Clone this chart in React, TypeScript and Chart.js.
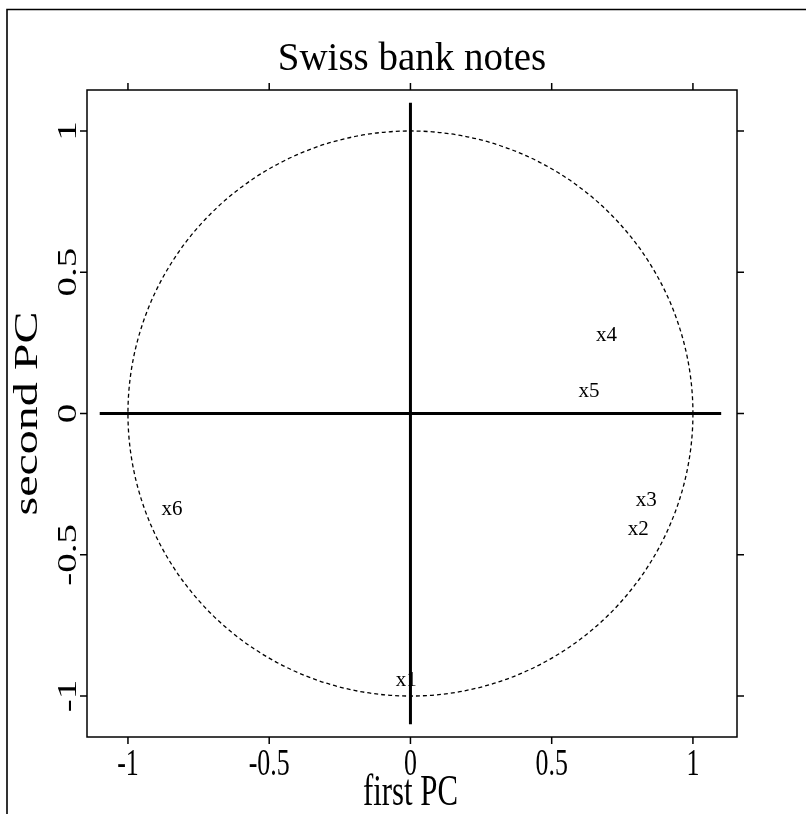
import React, { useEffect, useRef } from "react";
import { Chart, registerables } from "chart.js";

Chart.register(...registerables);

const TITLE = "Swiss bank notes";
const X_TITLE = "first PC";
const Y_TITLE = "second PC";

const VAR_NAMES = ["x1", "x2", "x3", "x4", "x5", "x6"];
const PC1 = [-0.015, 0.806, 0.835, 0.694, 0.632, -0.844];
const PC2 = [-0.945, -0.409, -0.309, 0.275, 0.078, -0.338];

const X_TICKS = [-1, -0.5, 0, 0.5, 1];
const Y_TICKS = [-1, -0.5, 0, 0.5, 1];
const X_TICK_LABELS = ["-1", "-0.5", "0", "0.5", "1"];
const Y_TICK_LABELS = ["-1", "-0.5", "0", "0.5", "1"];

const X_RANGE = [-1.145, 1.156];
const Y_RANGE = [-1.145, 1.145];

const AXIS_EXTENT = 1.1;
const CIRCLE_RADIUS = 1;

const FONT = '"Liberation Serif", "DejaVu Serif", serif';

function drawText(
  ctx: CanvasRenderingContext2D,
  text: string,
  x: number,
  y: number,
  size: number,
  scaleX: number,
  rotated: boolean
) {
  ctx.save();
  ctx.translate(x, y);
  ctx.scale(scaleX, 1);
  if (rotated) ctx.rotate(-Math.PI / 2);
  ctx.font = `${size}px ${FONT}`;
  ctx.textAlign = "center";
  ctx.textBaseline = "middle";
  ctx.fillText(text, 0, 0);
  ctx.restore();
}

const decorPlugin = {
  id: "decor",
  beforeDatasetsDraw(chart: any) {
    const ctx = chart.ctx;
    const xs = chart.scales.x;
    const ys = chart.scales.y;
    const cx = xs.getPixelForValue(0);
    const cy = ys.getPixelForValue(0);
    const rx = xs.getPixelForValue(CIRCLE_RADIUS) - cx;
    const ry = cy - ys.getPixelForValue(CIRCLE_RADIUS);
    ctx.save();
    ctx.strokeStyle = "#000";
    ctx.lineWidth = 1.3;
    ctx.setLineDash([4, 3]);
    ctx.beginPath();
    ctx.ellipse(cx, cy, rx, ry, 0, 0, Math.PI * 2);
    ctx.stroke();
    ctx.restore();
  },
  afterDraw(chart: any) {
    const ctx = chart.ctx;
    const area = chart.chartArea;
    const xs = chart.scales.x;
    const ys = chart.scales.y;
    ctx.save();
    ctx.strokeStyle = "#000";
    ctx.fillStyle = "#000";
    // outer frame
    ctx.lineWidth = 1.6;
    ctx.beginPath();
    ctx.moveTo(7, 830);
    ctx.lineTo(7, 9.5);
    ctx.lineTo(830, 9.5);
    ctx.stroke();
    // plot box
    ctx.lineWidth = 1.5;
    ctx.strokeRect(area.left, area.top, area.right - area.left, area.bottom - area.top);
    // ticks
    const tl = 7;
    ctx.beginPath();
    X_TICKS.forEach((v) => {
      const px = xs.getPixelForValue(v);
      ctx.moveTo(px, area.top);
      ctx.lineTo(px, area.top - tl);
      ctx.moveTo(px, area.bottom);
      ctx.lineTo(px, area.bottom + tl);
    });
    Y_TICKS.forEach((v) => {
      const py = ys.getPixelForValue(v);
      ctx.moveTo(area.left, py);
      ctx.lineTo(area.left - tl, py);
      ctx.moveTo(area.right, py);
      ctx.lineTo(area.right + tl, py);
    });
    ctx.stroke();
    // tick labels
    X_TICKS.forEach((v, i) => {
      drawText(ctx, X_TICK_LABELS[i], xs.getPixelForValue(v), 765, 37, 0.7, false);
    });
    Y_TICKS.forEach((v, i) => {
      drawText(ctx, Y_TICK_LABELS[i], 69, ys.getPixelForValue(v), 39, 0.7, true);
    });
    // axis titles
    drawText(ctx, X_TITLE, xs.getPixelForValue(0), 793, 44, 0.7, false);
    drawText(ctx, Y_TITLE, 28, ys.getPixelForValue(0), 48, 0.7, true);
    // title
    drawText(ctx, TITLE, (area.left + area.right) / 2, 59, 41, 0.95, false);
    // variable labels
    const meta = chart.getDatasetMeta(2);
    meta.data.forEach((pt: any, i: number) => {
      drawText(ctx, VAR_NAMES[i], pt.x, pt.y, 21, 1, false);
    });
    ctx.restore();
  },
};

export default function App() {
  const ref = useRef<HTMLCanvasElement | null>(null);
  useEffect(() => {
    if (!ref.current) return;
    const chart = new Chart(ref.current, {
      type: "scatter",
      data: {
        datasets: [
          {
            type: "line",
            data: [
              { x: -AXIS_EXTENT, y: 0 },
              { x: AXIS_EXTENT, y: 0 },
            ],
            borderColor: "#000",
            borderWidth: 3,
            pointRadius: 0,
            fill: false,
          },
          {
            type: "line",
            data: [
              { x: 0, y: -AXIS_EXTENT },
              { x: 0, y: AXIS_EXTENT },
            ],
            borderColor: "#000",
            borderWidth: 3,
            pointRadius: 0,
            fill: false,
          },
          {
            data: VAR_NAMES.map((_, i) => ({ x: PC1[i], y: PC2[i] })),
            pointRadius: 0,
            backgroundColor: "transparent",
            borderColor: "transparent",
          },
        ],
      } as any,
      options: {
        responsive: false,
        animation: false,
        devicePixelRatio: 1,
        layout: { padding: { left: 87, top: 90, right: 69, bottom: 77 } },
        plugins: {
          legend: { display: false },
          tooltip: { enabled: false },
          title: { display: false },
        },
        scales: {
          x: { type: "linear", min: X_RANGE[0], max: X_RANGE[1], display: false },
          y: { type: "linear", min: Y_RANGE[0], max: Y_RANGE[1], display: false },
        },
      },
      plugins: [decorPlugin],
    });
    return () => chart.destroy();
  }, []);
  return (
    <div style={{ position: "fixed", left: 0, top: 0, width: 806, height: 814, background: "#fff" }}>
      <canvas ref={ref} width={806} height={814} style={{ width: 806, height: 814, display: "block" }} />
    </div>
  );
}
